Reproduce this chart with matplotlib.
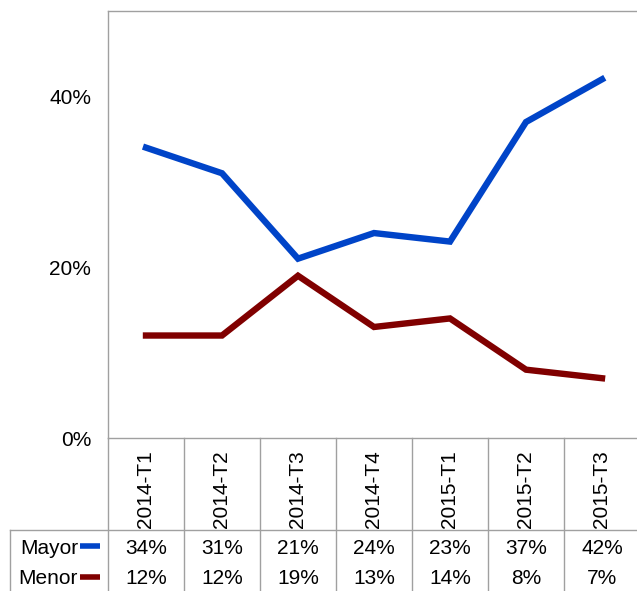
import matplotlib.pyplot as plt
import matplotlib.transforms as mtransforms
from matplotlib.lines import Line2D
from matplotlib.ticker import FuncFormatter

plt.rcParams['font.family'] = ['Liberation Sans', 'DejaVu Sans']

periods = ['2014-T1', '2014-T2', '2014-T3', '2014-T4', '2015-T1', '2015-T2', '2015-T3']
mayor = [34, 31, 21, 24, 23, 37, 42]
menor = [12, 12, 19, 13, 14, 8, 7]
series_names = ['Mayor', 'Menor']
colors = ['#0044C8', '#800000']

W, H = 637, 591
fig = plt.figure(figsize=(W / 100, H / 100), dpi=100)

# plot area in pixel terms
left, right, top, bottom = 108, 640, 11, 438
ax = fig.add_axes([left / W, 1 - bottom / H, (right - left) / W, (bottom - top) / H])

x = list(range(len(periods)))
for vals, c in zip([mayor, menor], colors):
    ax.plot(x, [v / 100 for v in vals], color=c, lw=4.6, solid_joinstyle='miter')

ax.set_xlim(-0.5, len(periods) - 0.5)
ax.set_ylim(0, 0.5)
ax.set_yticks([0, 0.2, 0.4])
ax.yaxis.set_major_formatter(FuncFormatter(lambda v, p: f'{v:.0%}'))
ax.tick_params(axis='y', length=0, labelsize=15, pad=12)
ax.set_xticks([])

grey = '#A0A0A0'
for s in ['left', 'top', 'bottom']:
    ax.spines[s].set_color(grey)
    ax.spines[s].set_linewidth(1)
ax.spines['right'].set_visible(False)

# table below the plot: x in data units, y in figure fraction
tr = mtransforms.blended_transform_factory(ax.transData, fig.transFigure)


def fy(py):
    return 1 - py / H


for i in range(len(periods) + 1):
    xe = i - 0.5
    fig.add_artist(Line2D([xe, xe], [fy(bottom), fy(H)], transform=tr, color=grey, lw=1))

# horizontal table line and left border (pixel coords)
fig.add_artist(Line2D([10 / W, 1], [fy(530), fy(530)], transform=fig.transFigure, color=grey, lw=1))
fig.add_artist(Line2D([10 / W, 10 / W], [fy(530), fy(H)], transform=fig.transFigure, color=grey, lw=1))

fs = 15
for i, p in enumerate(periods):
    fig.text(i, fy(528), p, transform=tr, rotation=90, ha='center', va='bottom', fontsize=fs)
    fig.text(i, fy(548), f'{mayor[i]}%', transform=tr, ha='center', va='center', fontsize=fs)
    fig.text(i, fy(579), f'{menor[i]}%', transform=tr, ha='center', va='center', fontsize=fs)

for name, c, py in zip(series_names, colors, [548, 579]):
    fig.text(78 / W, fy(py), name, ha='right', va='center', fontsize=fs)
    fig.add_artist(Line2D([80 / W, 100 / W], [fy(py - 2), fy(py - 2)], transform=fig.transFigure,
                          color=c, lw=4, solid_capstyle='butt'))

fig.savefig('out.png', dpi=100)
